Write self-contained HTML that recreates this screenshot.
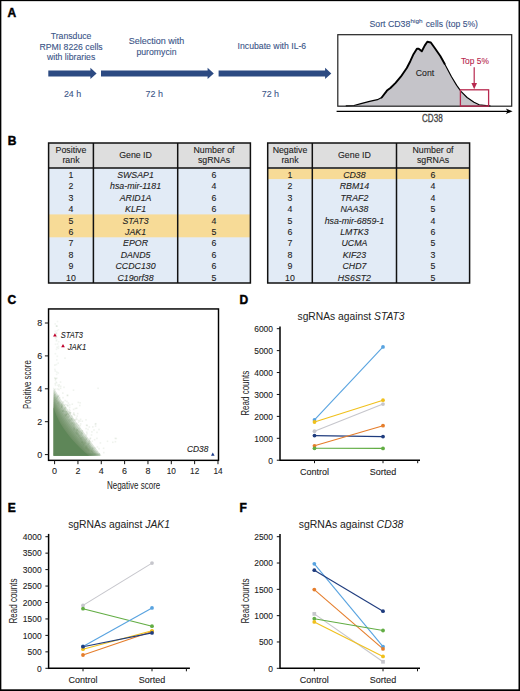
<!DOCTYPE html>
<html><head><meta charset="utf-8"><title>Figure</title>
<style>html,body{margin:0;padding:0;background:#fff;overflow:hidden;width:520px;height:691px;} svg{display:block;} text{font-family:"Liberation Sans", sans-serif;} .b{stroke:currentColor;}</style>
</head><body>
<svg width="520" height="691" viewBox="0 0 520 691">
<rect x="0" y="0" width="520" height="691" fill="#fff"/>
<text x="7.5" y="16.9" font-size="12" font-weight="bold" fill="#000" stroke="#000" stroke-width="0.45">A</text>
<text x="7.8" y="144.6" font-size="12" font-weight="bold" fill="#000" stroke="#000" stroke-width="0.45">B</text>
<text x="7.4" y="304.2" font-size="12" font-weight="bold" fill="#000" stroke="#000" stroke-width="0.45">C</text>
<text x="239.4" y="304.4" font-size="12" font-weight="bold" fill="#000" stroke="#000" stroke-width="0.45">D</text>
<text x="7.8" y="512.3" font-size="12" font-weight="bold" fill="#000" stroke="#000" stroke-width="0.45">E</text>
<text x="239.4" y="512.3" font-size="12" font-weight="bold" fill="#000" stroke="#000" stroke-width="0.45">F</text>
<polygon points="48.3,70.4 90.39999999999999,70.4 90.39999999999999,67.8 96.6,73.45 90.39999999999999,78.9 90.39999999999999,76.5 48.3,76.5" fill="#2c4a82"/>
<polygon points="101.0,70.4 207.60000000000002,70.4 207.60000000000002,67.8 213.8,73.45 207.60000000000002,78.9 207.60000000000002,76.5 101.0,76.5" fill="#2c4a82"/>
<polygon points="218.6,70.4 325.1,70.4 325.1,67.8 331.3,73.45 325.1,78.9 325.1,76.5 218.6,76.5" fill="#2c4a82"/>
<text x="71.10" y="39.00" font-size="8.7" fill="#3a5487" stroke="#3a5487" stroke-width="0.1" text-anchor="middle" >Transduce</text>
<text x="71.10" y="49.50" font-size="8.7" fill="#3a5487" stroke="#3a5487" stroke-width="0.1" text-anchor="middle" >RPMI 8226 cells</text>
<text x="71.10" y="60.00" font-size="8.7" fill="#3a5487" stroke="#3a5487" stroke-width="0.1" text-anchor="middle" >with libraries</text>
<text x="156.50" y="44.20" font-size="8.7" fill="#3a5487" stroke="#3a5487" stroke-width="0.1" text-anchor="middle" textLength="55.60" lengthAdjust="spacingAndGlyphs" >Selection with</text>
<text x="156.50" y="54.60" font-size="8.7" fill="#3a5487" stroke="#3a5487" stroke-width="0.1" text-anchor="middle" >puromycin</text>
<text x="271.90" y="49.10" font-size="8.7" fill="#3a5487" stroke="#3a5487" stroke-width="0.1" text-anchor="middle" >Incubate with IL-6</text>
<text x="72.60" y="96.80" font-size="9.4" fill="#3a5487" stroke="#3a5487" stroke-width="0.1" text-anchor="middle" textLength="17.40" lengthAdjust="spacingAndGlyphs" >24 h</text>
<text x="154.20" y="96.80" font-size="9.4" fill="#3a5487" stroke="#3a5487" stroke-width="0.1" text-anchor="middle" textLength="17.40" lengthAdjust="spacingAndGlyphs" >72 h</text>
<text x="270.40" y="96.60" font-size="9.4" fill="#3a5487" stroke="#3a5487" stroke-width="0.1" text-anchor="middle" textLength="17.40" lengthAdjust="spacingAndGlyphs" >72 h</text>
<text x="369.40" y="26.60" font-size="9.0" fill="#3a5487" stroke="#3a5487" stroke-width="0.1" textLength="41.00" lengthAdjust="spacingAndGlyphs" >Sort CD38</text>
<text x="410.60" y="23.00" font-size="6.2" fill="#3a5487" stroke="#3a5487" stroke-width="0.1" textLength="12.00" lengthAdjust="spacingAndGlyphs" >high</text>
<text x="425.80" y="26.60" font-size="9.0" fill="#3a5487" stroke="#3a5487" stroke-width="0.1" textLength="52.20" lengthAdjust="spacingAndGlyphs" >cells (top 5%)</text>
<path d="M338.2,105.8 L346.2,105.8 L354,105.5 L361,103.6 L369.6,101.3 L377.4,99.7 L381.7,97.5 L387,90.6 L390.4,88 L395.6,82.8 L400.8,76.7 L406.8,68 L410.3,61.2 L413.5,54.2 L416.9,48.7 L418.7,48.7 L421.8,51.3 L424.7,45.6 L427.3,41.8 L430.8,42.5 L434.2,47.3 L440.3,56 L444.6,63.7 L451.5,76.7 L456.7,85.4 L461,91.4 L467.1,97.5 L474,102.3 L479.2,104.8 L486.2,105.6 L490,105.9 L490,106.2 L338.2,106.2 Z" fill="#c5c4c9"/>
<path d="M346.2,105.8 L354,105.5 L361,103.6 L369.6,101.3 L377.4,99.7 L381.7,97.5" fill="none" stroke="#000" stroke-width="1.2" stroke-linejoin="round" stroke-linecap="round"/>
<path d="M381.7,97.5 L387,90.6 L390.4,88 L395.6,82.8 L400.8,76.7 L406.8,68 L410.3,61.2 L413.5,54.2 L416.9,48.7 L418.7,48.7 L421.8,51.3 L424.7,45.6 L427.3,41.8 L430.8,42.5 L434.2,47.3 L440.3,56 L444.6,63.7" fill="none" stroke="#000" stroke-width="1.9" stroke-linejoin="round" stroke-linecap="round"/>
<path d="M444.6,63.7 L451.5,76.7 L456.7,85.4 L461,91.4 L467.1,97.5 L474,102.3 L479.2,104.8 L486.2,105.6 L490,105.9" fill="none" stroke="#000" stroke-width="1.15" stroke-linejoin="round" stroke-linecap="round"/>
<rect x="337.8" y="34.7" width="173.9" height="71.5" fill="none" stroke="#222" stroke-width="1.2"/>
<rect x="460.4" y="89.8" width="28.2" height="16.3" fill="none" stroke="#b8294f" stroke-width="1.3"/>
<text x="474.90" y="64.30" font-size="8.4" fill="#b8294f" stroke="#b8294f" stroke-width="0.1" text-anchor="middle" >Top 5%</text>
<line x1="474.2" y1="67.2" x2="474.2" y2="84" stroke="#b8294f" stroke-width="1.2"/>
<polygon points="471.4,83 477,83 474.2,89.2" fill="#b8294f"/>
<text x="425.00" y="76.40" font-size="8.7" fill="#222" stroke="#222" stroke-width="0.1" text-anchor="middle" >Cont</text>
<line x1="336.6" y1="111.3" x2="508" y2="111.3" stroke="#000" stroke-width="1.2"/>
<polygon points="505.8,108.5 512.6,111.3 505.8,114.1 507.6,111.3" fill="#000"/>
<text x="432.30" y="121.90" font-size="10.4" fill="#444" stroke="#444" stroke-width="0.3" text-anchor="middle" textLength="20.80" lengthAdjust="spacingAndGlyphs" >CD38</text>
<rect x="48.6" y="143.0" width="201.8" height="25.0" fill="#dedede"/>
<rect x="48.6" y="168.0" width="201.8" height="115.0" fill="#e2ebf6"/>
<rect x="48.6" y="214.4" width="201.8" height="22.900000000000006" fill="#f7db97"/>
<rect x="48.6" y="143.0" width="201.8" height="140.0" fill="none" stroke="#111" stroke-width="1.5"/>
<line x1="48.6" y1="168.0" x2="250.4" y2="168.0" stroke="#111" stroke-width="1.5"/>
<line x1="93.4" y1="143.0" x2="93.4" y2="283.0" stroke="#111" stroke-width="1.5"/>
<line x1="177.7" y1="143.0" x2="177.7" y2="283.0" stroke="#111" stroke-width="1.5"/>
<text x="71.00" y="152.70" font-size="8.8" fill="#222" stroke="#222" stroke-width="0.1" text-anchor="middle" >Positive</text>
<text x="71.00" y="162.90" font-size="8.8" fill="#222" stroke="#222" stroke-width="0.1" text-anchor="middle" >rank</text>
<text x="135.55" y="158.10" font-size="8.8" fill="#222" stroke="#222" stroke-width="0.1" text-anchor="middle" >Gene ID</text>
<text x="214.05" y="152.70" font-size="8.8" fill="#222" stroke="#222" stroke-width="0.1" text-anchor="middle" >Number of</text>
<text x="214.05" y="162.90" font-size="8.8" fill="#222" stroke="#222" stroke-width="0.1" text-anchor="middle" >sgRNAs</text>
<text x="71.00" y="177.70" font-size="8.8" fill="#222" stroke="#222" stroke-width="0.1" text-anchor="middle" >1</text>
<text x="135.55" y="177.70" font-size="8.8" fill="#222" stroke="#222" stroke-width="0.1" text-anchor="middle" font-style="italic" >SWSAP1</text>
<text x="214.05" y="177.70" font-size="8.8" fill="#222" stroke="#222" stroke-width="0.1" text-anchor="middle" >6</text>
<text x="71.00" y="189.15" font-size="8.8" fill="#222" stroke="#222" stroke-width="0.1" text-anchor="middle" >2</text>
<text x="135.55" y="189.15" font-size="8.8" fill="#222" stroke="#222" stroke-width="0.1" text-anchor="middle" font-style="italic" >hsa-mir-1181</text>
<text x="214.05" y="189.15" font-size="8.8" fill="#222" stroke="#222" stroke-width="0.1" text-anchor="middle" >4</text>
<text x="71.00" y="200.60" font-size="8.8" fill="#222" stroke="#222" stroke-width="0.1" text-anchor="middle" >3</text>
<text x="135.55" y="200.60" font-size="8.8" fill="#222" stroke="#222" stroke-width="0.1" text-anchor="middle" font-style="italic" >ARID1A</text>
<text x="214.05" y="200.60" font-size="8.8" fill="#222" stroke="#222" stroke-width="0.1" text-anchor="middle" >6</text>
<text x="71.00" y="212.05" font-size="8.8" fill="#222" stroke="#222" stroke-width="0.1" text-anchor="middle" >4</text>
<text x="135.55" y="212.05" font-size="8.8" fill="#222" stroke="#222" stroke-width="0.1" text-anchor="middle" font-style="italic" >KLF1</text>
<text x="214.05" y="212.05" font-size="8.8" fill="#222" stroke="#222" stroke-width="0.1" text-anchor="middle" >6</text>
<text x="71.00" y="223.50" font-size="8.8" fill="#222" stroke="#222" stroke-width="0.1" text-anchor="middle" >5</text>
<text x="135.55" y="223.50" font-size="8.8" fill="#222" stroke="#222" stroke-width="0.1" text-anchor="middle" font-style="italic" >STAT3</text>
<text x="214.05" y="223.50" font-size="8.8" fill="#222" stroke="#222" stroke-width="0.1" text-anchor="middle" >4</text>
<text x="71.00" y="234.95" font-size="8.8" fill="#222" stroke="#222" stroke-width="0.1" text-anchor="middle" >6</text>
<text x="135.55" y="234.95" font-size="8.8" fill="#222" stroke="#222" stroke-width="0.1" text-anchor="middle" font-style="italic" >JAK1</text>
<text x="214.05" y="234.95" font-size="8.8" fill="#222" stroke="#222" stroke-width="0.1" text-anchor="middle" >5</text>
<text x="71.00" y="246.40" font-size="8.8" fill="#222" stroke="#222" stroke-width="0.1" text-anchor="middle" >7</text>
<text x="135.55" y="246.40" font-size="8.8" fill="#222" stroke="#222" stroke-width="0.1" text-anchor="middle" font-style="italic" >EPOR</text>
<text x="214.05" y="246.40" font-size="8.8" fill="#222" stroke="#222" stroke-width="0.1" text-anchor="middle" >6</text>
<text x="71.00" y="257.85" font-size="8.8" fill="#222" stroke="#222" stroke-width="0.1" text-anchor="middle" >8</text>
<text x="135.55" y="257.85" font-size="8.8" fill="#222" stroke="#222" stroke-width="0.1" text-anchor="middle" font-style="italic" >DAND5</text>
<text x="214.05" y="257.85" font-size="8.8" fill="#222" stroke="#222" stroke-width="0.1" text-anchor="middle" >6</text>
<text x="71.00" y="269.30" font-size="8.8" fill="#222" stroke="#222" stroke-width="0.1" text-anchor="middle" >9</text>
<text x="135.55" y="269.30" font-size="8.8" fill="#222" stroke="#222" stroke-width="0.1" text-anchor="middle" font-style="italic" >CCDC130</text>
<text x="214.05" y="269.30" font-size="8.8" fill="#222" stroke="#222" stroke-width="0.1" text-anchor="middle" >6</text>
<text x="71.00" y="280.75" font-size="8.8" fill="#222" stroke="#222" stroke-width="0.1" text-anchor="middle" >10</text>
<text x="135.55" y="280.75" font-size="8.8" fill="#222" stroke="#222" stroke-width="0.1" text-anchor="middle" font-style="italic" >C19orf38</text>
<text x="214.05" y="280.75" font-size="8.8" fill="#222" stroke="#222" stroke-width="0.1" text-anchor="middle" >5</text>
<rect x="267.7" y="143.0" width="201.90000000000003" height="25.0" fill="#dedede"/>
<rect x="267.7" y="168.0" width="201.90000000000003" height="115.0" fill="#e2ebf6"/>
<rect x="267.7" y="168.7" width="201.90000000000003" height="10.400000000000006" fill="#f7db97"/>
<rect x="267.7" y="143.0" width="201.90000000000003" height="140.0" fill="none" stroke="#111" stroke-width="1.5"/>
<line x1="267.7" y1="168.0" x2="469.6" y2="168.0" stroke="#111" stroke-width="1.5"/>
<line x1="312.3" y1="143.0" x2="312.3" y2="283.0" stroke="#111" stroke-width="1.5"/>
<line x1="396.5" y1="143.0" x2="396.5" y2="283.0" stroke="#111" stroke-width="1.5"/>
<text x="290.00" y="152.70" font-size="8.8" fill="#222" stroke="#222" stroke-width="0.1" text-anchor="middle" >Negative</text>
<text x="290.00" y="162.90" font-size="8.8" fill="#222" stroke="#222" stroke-width="0.1" text-anchor="middle" >rank</text>
<text x="354.40" y="158.10" font-size="8.8" fill="#222" stroke="#222" stroke-width="0.1" text-anchor="middle" >Gene ID</text>
<text x="433.05" y="152.70" font-size="8.8" fill="#222" stroke="#222" stroke-width="0.1" text-anchor="middle" >Number of</text>
<text x="433.05" y="162.90" font-size="8.8" fill="#222" stroke="#222" stroke-width="0.1" text-anchor="middle" >sgRNAs</text>
<text x="290.00" y="177.70" font-size="8.8" fill="#222" stroke="#222" stroke-width="0.1" text-anchor="middle" >1</text>
<text x="354.40" y="177.70" font-size="8.8" fill="#222" stroke="#222" stroke-width="0.1" text-anchor="middle" font-style="italic" >CD38</text>
<text x="433.05" y="177.70" font-size="8.8" fill="#222" stroke="#222" stroke-width="0.1" text-anchor="middle" >6</text>
<text x="290.00" y="189.15" font-size="8.8" fill="#222" stroke="#222" stroke-width="0.1" text-anchor="middle" >2</text>
<text x="354.40" y="189.15" font-size="8.8" fill="#222" stroke="#222" stroke-width="0.1" text-anchor="middle" font-style="italic" >RBM14</text>
<text x="433.05" y="189.15" font-size="8.8" fill="#222" stroke="#222" stroke-width="0.1" text-anchor="middle" >4</text>
<text x="290.00" y="200.60" font-size="8.8" fill="#222" stroke="#222" stroke-width="0.1" text-anchor="middle" >3</text>
<text x="354.40" y="200.60" font-size="8.8" fill="#222" stroke="#222" stroke-width="0.1" text-anchor="middle" font-style="italic" >TRAF2</text>
<text x="433.05" y="200.60" font-size="8.8" fill="#222" stroke="#222" stroke-width="0.1" text-anchor="middle" >4</text>
<text x="290.00" y="212.05" font-size="8.8" fill="#222" stroke="#222" stroke-width="0.1" text-anchor="middle" >4</text>
<text x="354.40" y="212.05" font-size="8.8" fill="#222" stroke="#222" stroke-width="0.1" text-anchor="middle" font-style="italic" >NAA38</text>
<text x="433.05" y="212.05" font-size="8.8" fill="#222" stroke="#222" stroke-width="0.1" text-anchor="middle" >5</text>
<text x="290.00" y="223.50" font-size="8.8" fill="#222" stroke="#222" stroke-width="0.1" text-anchor="middle" >5</text>
<text x="354.40" y="223.50" font-size="8.8" fill="#222" stroke="#222" stroke-width="0.1" text-anchor="middle" font-style="italic" >hsa-mir-6859-1</text>
<text x="433.05" y="223.50" font-size="8.8" fill="#222" stroke="#222" stroke-width="0.1" text-anchor="middle" >4</text>
<text x="290.00" y="234.95" font-size="8.8" fill="#222" stroke="#222" stroke-width="0.1" text-anchor="middle" >6</text>
<text x="354.40" y="234.95" font-size="8.8" fill="#222" stroke="#222" stroke-width="0.1" text-anchor="middle" font-style="italic" >LMTK3</text>
<text x="433.05" y="234.95" font-size="8.8" fill="#222" stroke="#222" stroke-width="0.1" text-anchor="middle" >6</text>
<text x="290.00" y="246.40" font-size="8.8" fill="#222" stroke="#222" stroke-width="0.1" text-anchor="middle" >7</text>
<text x="354.40" y="246.40" font-size="8.8" fill="#222" stroke="#222" stroke-width="0.1" text-anchor="middle" font-style="italic" >UCMA</text>
<text x="433.05" y="246.40" font-size="8.8" fill="#222" stroke="#222" stroke-width="0.1" text-anchor="middle" >5</text>
<text x="290.00" y="257.85" font-size="8.8" fill="#222" stroke="#222" stroke-width="0.1" text-anchor="middle" >8</text>
<text x="354.40" y="257.85" font-size="8.8" fill="#222" stroke="#222" stroke-width="0.1" text-anchor="middle" font-style="italic" >KIF23</text>
<text x="433.05" y="257.85" font-size="8.8" fill="#222" stroke="#222" stroke-width="0.1" text-anchor="middle" >3</text>
<text x="290.00" y="269.30" font-size="8.8" fill="#222" stroke="#222" stroke-width="0.1" text-anchor="middle" >9</text>
<text x="354.40" y="269.30" font-size="8.8" fill="#222" stroke="#222" stroke-width="0.1" text-anchor="middle" font-style="italic" >CHD7</text>
<text x="433.05" y="269.30" font-size="8.8" fill="#222" stroke="#222" stroke-width="0.1" text-anchor="middle" >5</text>
<text x="290.00" y="280.75" font-size="8.8" fill="#222" stroke="#222" stroke-width="0.1" text-anchor="middle" >10</text>
<text x="354.40" y="280.75" font-size="8.8" fill="#222" stroke="#222" stroke-width="0.1" text-anchor="middle" font-style="italic" >HS6ST2</text>
<text x="433.05" y="280.75" font-size="8.8" fill="#222" stroke="#222" stroke-width="0.1" text-anchor="middle" >5</text>
<polygon points="53.6,455.8 53.6,387.5 55.7,391.1 58.1,395.1 60.9,399.5 64.0,404.2 67.5,409.3 71.3,414.8 75.4,420.7 80.0,427.0 84.8,433.6 90.0,440.6 95.6,448.0 101.5,455.8" fill="#5e8658" fill-opacity="0.22"/>
<polygon points="53.6,455.8 53.6,389.9 55.6,393.6 57.9,397.6 60.6,401.9 63.6,406.6 67.0,411.6 70.7,416.9 74.7,422.6 79.1,428.6 83.8,434.9 88.8,441.5 94.2,448.5 100.0,455.8" fill="#5e8658" fill-opacity="0.22"/>
<polygon points="53.6,455.8 53.6,392.3 55.5,396.1 57.7,400.1 60.3,404.4 63.2,409.0 66.5,413.8 70.0,419.0 73.9,424.4 78.2,430.1 82.8,436.1 87.7,442.4 92.9,449.0 98.5,455.8" fill="#5e8658" fill-opacity="0.22"/>
<polygon points="53.6,455.8 53.6,394.7 55.4,398.5 57.6,402.5 60.0,406.8 62.8,411.3 66.0,416.1 69.4,421.0 73.2,426.2 77.3,431.7 81.7,437.4 86.5,443.3 91.6,449.4 97.0,455.8" fill="#5e8658" fill-opacity="0.22"/>
<polygon points="53.6,455.8 53.6,397.0 55.3,400.9 57.4,404.9 59.8,409.2 62.5,413.6 65.5,418.2 68.8,423.0 72.5,428.0 76.5,433.2 80.8,438.6 85.4,444.1 90.3,449.9 95.5,455.8" fill="#5e8658" fill-opacity="0.22"/>
<polygon points="53.6,455.8 53.6,399.3 55.3,403.2 57.2,407.3 59.5,411.5 62.1,415.9 65.0,420.4 68.3,425.0 71.8,429.8 75.6,434.7 79.8,439.8 84.3,445.0 89.0,450.3 94.1,455.8" fill="#5e8658" fill-opacity="0.22"/>
<polygon points="53.6,455.8 53.6,401.5 55.2,405.5 57.1,409.6 59.3,413.8 61.8,418.1 64.6,422.4 67.7,426.9 71.1,431.5 74.8,436.2 78.8,440.9 83.2,445.8 87.8,450.7 92.7,455.8" fill="#5e8658" fill-opacity="0.22"/>
<polygon points="53.6,455.8 53.6,403.7 55.1,407.7 56.9,411.8 59.0,416.0 61.4,420.2 64.1,424.5 67.1,428.8 70.4,433.1 74.0,437.6 77.9,442.0 82.1,446.6 86.6,451.2 91.4,455.8" fill="#5e8658" fill-opacity="0.22"/>
<polygon points="53.6,455.8 53.6,405.7 55.0,409.8 56.8,413.9 58.8,418.1 61.1,422.2 63.7,426.4 66.6,430.5 69.8,434.7 73.3,438.9 77.0,443.1 81.1,447.3 85.5,451.6 90.1,455.8" fill="#5e8658" fill-opacity="0.22"/>
<polygon points="53.6,455.8 53.6,407.5 55.0,411.7 56.6,415.8 58.6,419.9 60.8,424.0 63.3,428.0 66.2,432.1 69.2,436.1 72.6,440.1 76.3,444.0 80.2,448.0 84.5,451.9 89.0,455.8" fill="#5e8658" fill-opacity="1.0"/>
<rect x="63.7" y="404.4" width="1.6" height="1.6" fill="#5e8658" fill-opacity="0.10"/>
<rect x="69.6" y="411.9" width="1.6" height="1.6" fill="#5e8658" fill-opacity="0.10"/>
<rect x="76.3" y="432.8" width="1.6" height="1.6" fill="#5e8658" fill-opacity="0.10"/>
<rect x="54.5" y="377.6" width="1.6" height="1.6" fill="#5e8658" fill-opacity="0.10"/>
<rect x="63.5" y="410.5" width="1.6" height="1.6" fill="#5e8658" fill-opacity="0.10"/>
<rect x="94.0" y="453.5" width="1.6" height="1.6" fill="#5e8658" fill-opacity="0.10"/>
<rect x="87.7" y="443.5" width="1.6" height="1.6" fill="#5e8658" fill-opacity="0.10"/>
<rect x="77.3" y="433.1" width="1.6" height="1.6" fill="#5e8658" fill-opacity="0.10"/>
<rect x="86.3" y="424.7" width="1.6" height="1.6" fill="#5e8658" fill-opacity="0.10"/>
<rect x="77.8" y="419.7" width="1.6" height="1.6" fill="#5e8658" fill-opacity="0.10"/>
<rect x="78.0" y="435.4" width="1.6" height="1.6" fill="#5e8658" fill-opacity="0.10"/>
<rect x="86.0" y="437.8" width="1.6" height="1.6" fill="#5e8658" fill-opacity="0.10"/>
<rect x="64.6" y="414.9" width="1.6" height="1.6" fill="#5e8658" fill-opacity="0.10"/>
<rect x="88.8" y="445.3" width="1.6" height="1.6" fill="#5e8658" fill-opacity="0.10"/>
<rect x="91.1" y="431.1" width="1.6" height="1.6" fill="#5e8658" fill-opacity="0.10"/>
<rect x="93.2" y="429.2" width="1.6" height="1.6" fill="#5e8658" fill-opacity="0.10"/>
<rect x="72.8" y="408.6" width="1.6" height="1.6" fill="#5e8658" fill-opacity="0.10"/>
<rect x="79.0" y="404.7" width="1.6" height="1.6" fill="#5e8658" fill-opacity="0.10"/>
<rect x="85.7" y="447.0" width="1.6" height="1.6" fill="#5e8658" fill-opacity="0.10"/>
<rect x="58.9" y="403.5" width="1.6" height="1.6" fill="#5e8658" fill-opacity="0.10"/>
<rect x="92.3" y="451.7" width="1.6" height="1.6" fill="#5e8658" fill-opacity="0.10"/>
<rect x="77.8" y="431.5" width="1.6" height="1.6" fill="#5e8658" fill-opacity="0.10"/>
<rect x="73.7" y="423.7" width="1.6" height="1.6" fill="#5e8658" fill-opacity="0.10"/>
<rect x="68.6" y="411.0" width="1.6" height="1.6" fill="#5e8658" fill-opacity="0.10"/>
<rect x="85.2" y="419.0" width="1.6" height="1.6" fill="#5e8658" fill-opacity="0.10"/>
<rect x="92.0" y="426.1" width="1.6" height="1.6" fill="#5e8658" fill-opacity="0.10"/>
<rect x="115.5" y="437.7" width="1.6" height="1.6" fill="#5e8658" fill-opacity="0.10"/>
<rect x="78.5" y="434.9" width="1.6" height="1.6" fill="#5e8658" fill-opacity="0.10"/>
<rect x="106.7" y="440.5" width="1.6" height="1.6" fill="#5e8658" fill-opacity="0.10"/>
<rect x="91.8" y="447.6" width="1.6" height="1.6" fill="#5e8658" fill-opacity="0.10"/>
<rect x="80.4" y="437.2" width="1.6" height="1.6" fill="#5e8658" fill-opacity="0.10"/>
<rect x="88.8" y="442.8" width="1.6" height="1.6" fill="#5e8658" fill-opacity="0.10"/>
<rect x="64.1" y="413.7" width="1.6" height="1.6" fill="#5e8658" fill-opacity="0.10"/>
<rect x="114.5" y="437.6" width="1.6" height="1.6" fill="#5e8658" fill-opacity="0.10"/>
<rect x="58.0" y="385.7" width="1.6" height="1.6" fill="#5e8658" fill-opacity="0.10"/>
<rect x="68.9" y="420.1" width="1.6" height="1.6" fill="#5e8658" fill-opacity="0.10"/>
<rect x="67.6" y="402.3" width="1.6" height="1.6" fill="#5e8658" fill-opacity="0.10"/>
<rect x="85.1" y="446.7" width="1.6" height="1.6" fill="#5e8658" fill-opacity="0.10"/>
<rect x="75.8" y="432.3" width="1.6" height="1.6" fill="#5e8658" fill-opacity="0.10"/>
<rect x="81.5" y="436.9" width="1.6" height="1.6" fill="#5e8658" fill-opacity="0.10"/>
<rect x="112.0" y="441.5" width="1.6" height="1.6" fill="#5e8658" fill-opacity="0.10"/>
<rect x="97.3" y="387.5" width="1.6" height="1.6" fill="#5e8658" fill-opacity="0.10"/>
<rect x="65.0" y="415.0" width="1.6" height="1.6" fill="#5e8658" fill-opacity="0.10"/>
<rect x="75.2" y="431.5" width="1.6" height="1.6" fill="#5e8658" fill-opacity="0.10"/>
<rect x="61.6" y="404.4" width="1.6" height="1.6" fill="#5e8658" fill-opacity="0.10"/>
<rect x="76.3" y="431.5" width="1.6" height="1.6" fill="#5e8658" fill-opacity="0.10"/>
<rect x="56.0" y="377.4" width="1.6" height="1.6" fill="#5e8658" fill-opacity="0.10"/>
<rect x="72.7" y="389.4" width="1.6" height="1.6" fill="#5e8658" fill-opacity="0.10"/>
<rect x="88.9" y="447.5" width="1.6" height="1.6" fill="#5e8658" fill-opacity="0.10"/>
<rect x="72.8" y="419.2" width="1.6" height="1.6" fill="#5e8658" fill-opacity="0.10"/>
<rect x="81.2" y="430.2" width="1.6" height="1.6" fill="#5e8658" fill-opacity="0.10"/>
<rect x="77.8" y="424.3" width="1.6" height="1.6" fill="#5e8658" fill-opacity="0.10"/>
<rect x="92.3" y="450.0" width="1.6" height="1.6" fill="#5e8658" fill-opacity="0.10"/>
<rect x="73.4" y="413.6" width="1.6" height="1.6" fill="#5e8658" fill-opacity="0.10"/>
<rect x="62.9" y="408.4" width="1.6" height="1.6" fill="#5e8658" fill-opacity="0.10"/>
<rect x="94.1" y="452.4" width="1.6" height="1.6" fill="#5e8658" fill-opacity="0.10"/>
<rect x="73.3" y="428.8" width="1.6" height="1.6" fill="#5e8658" fill-opacity="0.10"/>
<rect x="71.3" y="415.3" width="1.6" height="1.6" fill="#5e8658" fill-opacity="0.10"/>
<rect x="54.7" y="388.3" width="1.6" height="1.6" fill="#5e8658" fill-opacity="0.10"/>
<rect x="76.5" y="433.2" width="1.6" height="1.6" fill="#5e8658" fill-opacity="0.10"/>
<rect x="79.1" y="430.4" width="1.6" height="1.6" fill="#5e8658" fill-opacity="0.10"/>
<rect x="80.2" y="434.4" width="1.6" height="1.6" fill="#5e8658" fill-opacity="0.10"/>
<rect x="86.2" y="432.9" width="1.6" height="1.6" fill="#5e8658" fill-opacity="0.10"/>
<rect x="54.6" y="399.0" width="1.6" height="1.6" fill="#5e8658" fill-opacity="0.10"/>
<rect x="95.1" y="422.9" width="1.6" height="1.6" fill="#5e8658" fill-opacity="0.10"/>
<rect x="63.9" y="406.9" width="1.6" height="1.6" fill="#5e8658" fill-opacity="0.10"/>
<rect x="76.6" y="429.4" width="1.6" height="1.6" fill="#5e8658" fill-opacity="0.10"/>
<rect x="67.8" y="415.8" width="1.6" height="1.6" fill="#5e8658" fill-opacity="0.10"/>
<rect x="69.5" y="412.0" width="1.6" height="1.6" fill="#5e8658" fill-opacity="0.10"/>
<rect x="65.6" y="411.1" width="1.6" height="1.6" fill="#5e8658" fill-opacity="0.10"/>
<rect x="81.4" y="441.1" width="1.6" height="1.6" fill="#5e8658" fill-opacity="0.10"/>
<rect x="79.9" y="423.1" width="1.6" height="1.6" fill="#5e8658" fill-opacity="0.10"/>
<rect x="65.4" y="413.6" width="1.6" height="1.6" fill="#5e8658" fill-opacity="0.10"/>
<rect x="84.0" y="442.3" width="1.6" height="1.6" fill="#5e8658" fill-opacity="0.10"/>
<rect x="61.3" y="403.3" width="1.6" height="1.6" fill="#5e8658" fill-opacity="0.10"/>
<rect x="79.1" y="436.7" width="1.6" height="1.6" fill="#5e8658" fill-opacity="0.10"/>
<rect x="66.2" y="413.0" width="1.6" height="1.6" fill="#5e8658" fill-opacity="0.10"/>
<rect x="87.1" y="443.4" width="1.6" height="1.6" fill="#5e8658" fill-opacity="0.10"/>
<rect x="85.4" y="445.5" width="1.6" height="1.6" fill="#5e8658" fill-opacity="0.10"/>
<rect x="68.5" y="408.7" width="1.6" height="1.6" fill="#5e8658" fill-opacity="0.10"/>
<rect x="89.3" y="446.6" width="1.6" height="1.6" fill="#5e8658" fill-opacity="0.10"/>
<rect x="62.0" y="409.8" width="1.6" height="1.6" fill="#5e8658" fill-opacity="0.10"/>
<rect x="73.5" y="426.6" width="1.6" height="1.6" fill="#5e8658" fill-opacity="0.10"/>
<rect x="93.8" y="438.9" width="1.6" height="1.6" fill="#5e8658" fill-opacity="0.10"/>
<rect x="60.8" y="405.5" width="1.6" height="1.6" fill="#5e8658" fill-opacity="0.10"/>
<rect x="88.9" y="440.8" width="1.6" height="1.6" fill="#5e8658" fill-opacity="0.10"/>
<rect x="85.1" y="442.1" width="1.6" height="1.6" fill="#5e8658" fill-opacity="0.10"/>
<rect x="58.7" y="402.1" width="1.6" height="1.6" fill="#5e8658" fill-opacity="0.10"/>
<rect x="83.9" y="441.6" width="1.6" height="1.6" fill="#5e8658" fill-opacity="0.10"/>
<rect x="67.5" y="413.4" width="1.6" height="1.6" fill="#5e8658" fill-opacity="0.10"/>
<rect x="70.4" y="418.0" width="1.6" height="1.6" fill="#5e8658" fill-opacity="0.10"/>
<rect x="87.7" y="449.2" width="1.6" height="1.6" fill="#5e8658" fill-opacity="0.10"/>
<rect x="54.1" y="364.3" width="1.6" height="1.6" fill="#5e8658" fill-opacity="0.10"/>
<rect x="114.6" y="440.9" width="1.6" height="1.6" fill="#5e8658" fill-opacity="0.10"/>
<rect x="79.3" y="402.0" width="1.6" height="1.6" fill="#5e8658" fill-opacity="0.10"/>
<rect x="88.5" y="449.6" width="1.6" height="1.6" fill="#5e8658" fill-opacity="0.10"/>
<rect x="90.7" y="434.2" width="1.6" height="1.6" fill="#5e8658" fill-opacity="0.10"/>
<rect x="81.1" y="432.2" width="1.6" height="1.6" fill="#5e8658" fill-opacity="0.10"/>
<rect x="65.0" y="410.9" width="1.6" height="1.6" fill="#5e8658" fill-opacity="0.10"/>
<rect x="62.0" y="410.4" width="1.6" height="1.6" fill="#5e8658" fill-opacity="0.10"/>
<rect x="76.2" y="429.4" width="1.6" height="1.6" fill="#5e8658" fill-opacity="0.10"/>
<rect x="82.8" y="443.2" width="1.6" height="1.6" fill="#5e8658" fill-opacity="0.10"/>
<rect x="94.2" y="447.1" width="1.6" height="1.6" fill="#5e8658" fill-opacity="0.10"/>
<rect x="102.8" y="447.5" width="1.6" height="1.6" fill="#5e8658" fill-opacity="0.10"/>
<rect x="91.7" y="447.2" width="1.6" height="1.6" fill="#5e8658" fill-opacity="0.10"/>
<rect x="54.4" y="382.9" width="1.6" height="1.6" fill="#5e8658" fill-opacity="0.10"/>
<rect x="60.4" y="404.5" width="1.6" height="1.6" fill="#5e8658" fill-opacity="0.10"/>
<rect x="81.1" y="432.1" width="1.6" height="1.6" fill="#5e8658" fill-opacity="0.10"/>
<rect x="77.5" y="401.6" width="1.6" height="1.6" fill="#5e8658" fill-opacity="0.10"/>
<rect x="77.5" y="430.4" width="1.6" height="1.6" fill="#5e8658" fill-opacity="0.10"/>
<rect x="66.6" y="394.6" width="1.6" height="1.6" fill="#5e8658" fill-opacity="0.10"/>
<rect x="76.4" y="415.3" width="1.6" height="1.6" fill="#5e8658" fill-opacity="0.10"/>
<rect x="66.9" y="416.3" width="1.6" height="1.6" fill="#5e8658" fill-opacity="0.10"/>
<rect x="79.8" y="418.5" width="1.6" height="1.6" fill="#5e8658" fill-opacity="0.10"/>
<rect x="62.0" y="392.3" width="1.6" height="1.6" fill="#5e8658" fill-opacity="0.10"/>
<rect x="98.2" y="447.9" width="1.6" height="1.6" fill="#5e8658" fill-opacity="0.10"/>
<rect x="83.1" y="444.0" width="1.6" height="1.6" fill="#5e8658" fill-opacity="0.10"/>
<rect x="85.8" y="424.4" width="1.6" height="1.6" fill="#5e8658" fill-opacity="0.10"/>
<rect x="55.7" y="397.7" width="1.6" height="1.6" fill="#5e8658" fill-opacity="0.10"/>
<rect x="64.9" y="406.7" width="1.6" height="1.6" fill="#5e8658" fill-opacity="0.10"/>
<rect x="70.9" y="417.4" width="1.6" height="1.6" fill="#5e8658" fill-opacity="0.10"/>
<rect x="81.4" y="441.4" width="1.6" height="1.6" fill="#5e8658" fill-opacity="0.10"/>
<rect x="55.8" y="400.0" width="1.6" height="1.6" fill="#5e8658" fill-opacity="0.10"/>
<rect x="58.3" y="404.7" width="1.6" height="1.6" fill="#5e8658" fill-opacity="0.10"/>
<rect x="103.0" y="451.8" width="1.6" height="1.6" fill="#5e8658" fill-opacity="0.10"/>
<rect x="57.3" y="395.6" width="1.6" height="1.6" fill="#5e8658" fill-opacity="0.10"/>
<rect x="65.9" y="412.9" width="1.6" height="1.6" fill="#5e8658" fill-opacity="0.10"/>
<rect x="69.1" y="409.8" width="1.6" height="1.6" fill="#5e8658" fill-opacity="0.10"/>
<rect x="76.6" y="428.7" width="1.6" height="1.6" fill="#5e8658" fill-opacity="0.10"/>
<rect x="61.2" y="405.2" width="1.6" height="1.6" fill="#5e8658" fill-opacity="0.10"/>
<rect x="59.0" y="396.8" width="1.6" height="1.6" fill="#5e8658" fill-opacity="0.10"/>
<rect x="81.9" y="436.5" width="1.6" height="1.6" fill="#5e8658" fill-opacity="0.10"/>
<rect x="56.8" y="400.8" width="1.6" height="1.6" fill="#5e8658" fill-opacity="0.10"/>
<rect x="69.7" y="412.1" width="1.6" height="1.6" fill="#5e8658" fill-opacity="0.10"/>
<rect x="84.5" y="440.5" width="1.6" height="1.6" fill="#5e8658" fill-opacity="0.10"/>
<rect x="88.3" y="440.5" width="1.6" height="1.6" fill="#5e8658" fill-opacity="0.10"/>
<rect x="70.7" y="419.2" width="1.6" height="1.6" fill="#5e8658" fill-opacity="0.10"/>
<rect x="76.1" y="418.6" width="1.6" height="1.6" fill="#5e8658" fill-opacity="0.10"/>
<rect x="72.6" y="413.5" width="1.6" height="1.6" fill="#5e8658" fill-opacity="0.10"/>
<rect x="71.2" y="422.2" width="1.6" height="1.6" fill="#5e8658" fill-opacity="0.10"/>
<rect x="77.7" y="421.5" width="1.6" height="1.6" fill="#5e8658" fill-opacity="0.10"/>
<rect x="56.6" y="396.3" width="1.6" height="1.6" fill="#5e8658" fill-opacity="0.10"/>
<rect x="75.9" y="407.4" width="1.6" height="1.6" fill="#5e8658" fill-opacity="0.10"/>
<rect x="90.4" y="449.9" width="1.6" height="1.6" fill="#5e8658" fill-opacity="0.10"/>
<rect x="96.6" y="446.2" width="1.6" height="1.6" fill="#5e8658" fill-opacity="0.10"/>
<rect x="64.4" y="407.5" width="1.6" height="1.6" fill="#5e8658" fill-opacity="0.10"/>
<rect x="59.8" y="387.5" width="1.6" height="1.6" fill="#5e8658" fill-opacity="0.10"/>
<rect x="88.5" y="426.2" width="1.6" height="1.6" fill="#5e8658" fill-opacity="0.10"/>
<rect x="88.7" y="439.6" width="1.6" height="1.6" fill="#5e8658" fill-opacity="0.10"/>
<rect x="84.6" y="436.4" width="1.6" height="1.6" fill="#5e8658" fill-opacity="0.10"/>
<rect x="58.2" y="394.6" width="1.6" height="1.6" fill="#5e8658" fill-opacity="0.10"/>
<rect x="54.0" y="396.9" width="1.6" height="1.6" fill="#5e8658" fill-opacity="0.10"/>
<rect x="81.5" y="441.2" width="1.6" height="1.6" fill="#5e8658" fill-opacity="0.10"/>
<rect x="57.1" y="402.5" width="1.6" height="1.6" fill="#5e8658" fill-opacity="0.10"/>
<rect x="86.4" y="446.9" width="1.6" height="1.6" fill="#5e8658" fill-opacity="0.10"/>
<rect x="55.0" y="378.1" width="1.6" height="1.6" fill="#5e8658" fill-opacity="0.10"/>
<rect x="59.9" y="385.5" width="1.6" height="1.6" fill="#5e8658" fill-opacity="0.10"/>
<rect x="87.2" y="428.6" width="1.6" height="1.6" fill="#5e8658" fill-opacity="0.10"/>
<rect x="94.0" y="450.7" width="1.6" height="1.6" fill="#5e8658" fill-opacity="0.10"/>
<rect x="82.4" y="442.6" width="1.6" height="1.6" fill="#5e8658" fill-opacity="0.10"/>
<rect x="85.3" y="438.9" width="1.6" height="1.6" fill="#5e8658" fill-opacity="0.10"/>
<rect x="79.8" y="437.7" width="1.6" height="1.6" fill="#5e8658" fill-opacity="0.10"/>
<rect x="96.2" y="431.6" width="1.6" height="1.6" fill="#5e8658" fill-opacity="0.10"/>
<rect x="56.2" y="397.5" width="1.6" height="1.6" fill="#5e8658" fill-opacity="0.10"/>
<rect x="81.5" y="420.4" width="1.6" height="1.6" fill="#5e8658" fill-opacity="0.10"/>
<rect x="62.8" y="410.1" width="1.6" height="1.6" fill="#5e8658" fill-opacity="0.10"/>
<rect x="64.5" y="403.7" width="1.6" height="1.6" fill="#5e8658" fill-opacity="0.10"/>
<rect x="83.5" y="438.7" width="1.6" height="1.6" fill="#5e8658" fill-opacity="0.10"/>
<rect x="68.3" y="415.0" width="1.6" height="1.6" fill="#5e8658" fill-opacity="0.10"/>
<rect x="67.7" y="413.6" width="1.6" height="1.6" fill="#5e8658" fill-opacity="0.10"/>
<rect x="57.2" y="395.4" width="1.6" height="1.6" fill="#5e8658" fill-opacity="0.10"/>
<rect x="92.3" y="452.1" width="1.6" height="1.6" fill="#5e8658" fill-opacity="0.10"/>
<rect x="81.3" y="439.3" width="1.6" height="1.6" fill="#5e8658" fill-opacity="0.10"/>
<rect x="85.9" y="431.4" width="1.6" height="1.6" fill="#5e8658" fill-opacity="0.10"/>
<rect x="81.5" y="432.9" width="1.6" height="1.6" fill="#5e8658" fill-opacity="0.10"/>
<rect x="74.8" y="418.8" width="1.6" height="1.6" fill="#5e8658" fill-opacity="0.10"/>
<rect x="86.8" y="447.9" width="1.6" height="1.6" fill="#5e8658" fill-opacity="0.10"/>
<rect x="58.2" y="388.8" width="1.6" height="1.6" fill="#5e8658" fill-opacity="0.10"/>
<rect x="91.5" y="448.5" width="1.6" height="1.6" fill="#5e8658" fill-opacity="0.10"/>
<rect x="73.9" y="414.5" width="1.6" height="1.6" fill="#5e8658" fill-opacity="0.10"/>
<rect x="60.9" y="405.8" width="1.6" height="1.6" fill="#5e8658" fill-opacity="0.10"/>
<rect x="62.2" y="401.0" width="1.6" height="1.6" fill="#5e8658" fill-opacity="0.10"/>
<rect x="65.6" y="413.7" width="1.6" height="1.6" fill="#5e8658" fill-opacity="0.10"/>
<rect x="94.8" y="425.3" width="1.6" height="1.6" fill="#5e8658" fill-opacity="0.10"/>
<rect x="67.1" y="404.5" width="1.6" height="1.6" fill="#5e8658" fill-opacity="0.10"/>
<rect x="74.6" y="407.7" width="1.6" height="1.6" fill="#5e8658" fill-opacity="0.10"/>
<rect x="76.0" y="429.3" width="1.6" height="1.6" fill="#5e8658" fill-opacity="0.10"/>
<rect x="61.6" y="410.3" width="1.6" height="1.6" fill="#5e8658" fill-opacity="0.10"/>
<rect x="72.6" y="422.0" width="1.6" height="1.6" fill="#5e8658" fill-opacity="0.10"/>
<rect x="60.5" y="403.6" width="1.6" height="1.6" fill="#5e8658" fill-opacity="0.10"/>
<rect x="68.9" y="404.1" width="1.6" height="1.6" fill="#5e8658" fill-opacity="0.10"/>
<rect x="64.2" y="357.4" width="1.6" height="1.6" fill="#5e8658" fill-opacity="0.10"/>
<rect x="74.2" y="419.3" width="1.6" height="1.6" fill="#5e8658" fill-opacity="0.10"/>
<rect x="76.9" y="412.8" width="1.6" height="1.6" fill="#5e8658" fill-opacity="0.10"/>
<rect x="88.1" y="442.2" width="1.6" height="1.6" fill="#5e8658" fill-opacity="0.10"/>
<rect x="75.6" y="417.1" width="1.6" height="1.6" fill="#5e8658" fill-opacity="0.10"/>
<rect x="87.6" y="445.0" width="1.6" height="1.6" fill="#5e8658" fill-opacity="0.10"/>
<rect x="98.2" y="428.7" width="1.6" height="1.6" fill="#5e8658" fill-opacity="0.10"/>
<rect x="71.3" y="422.7" width="1.6" height="1.6" fill="#5e8658" fill-opacity="0.10"/>
<rect x="64.4" y="399.8" width="1.6" height="1.6" fill="#5e8658" fill-opacity="0.10"/>
<rect x="94.5" y="423.3" width="1.6" height="1.6" fill="#5e8658" fill-opacity="0.10"/>
<rect x="85.9" y="445.2" width="1.6" height="1.6" fill="#5e8658" fill-opacity="0.10"/>
<rect x="61.0" y="406.1" width="1.6" height="1.6" fill="#5e8658" fill-opacity="0.10"/>
<rect x="62.2" y="396.9" width="1.6" height="1.6" fill="#5e8658" fill-opacity="0.10"/>
<rect x="99.6" y="442.1" width="1.6" height="1.6" fill="#5e8658" fill-opacity="0.10"/>
<rect x="66.8" y="394.6" width="1.6" height="1.6" fill="#5e8658" fill-opacity="0.10"/>
<rect x="66.3" y="411.3" width="1.6" height="1.6" fill="#5e8658" fill-opacity="0.10"/>
<rect x="80.2" y="438.5" width="1.6" height="1.6" fill="#5e8658" fill-opacity="0.10"/>
<rect x="58.4" y="384.0" width="1.6" height="1.6" fill="#5e8658" fill-opacity="0.10"/>
<rect x="65.1" y="410.9" width="1.6" height="1.6" fill="#5e8658" fill-opacity="0.10"/>
<rect x="79.5" y="424.9" width="1.6" height="1.6" fill="#5e8658" fill-opacity="0.10"/>
<rect x="54.1" y="394.0" width="1.6" height="1.6" fill="#5e8658" fill-opacity="0.10"/>
<rect x="71.5" y="418.1" width="1.6" height="1.6" fill="#5e8658" fill-opacity="0.10"/>
<rect x="62.7" y="401.7" width="1.6" height="1.6" fill="#5e8658" fill-opacity="0.10"/>
<rect x="91.4" y="451.1" width="1.6" height="1.6" fill="#5e8658" fill-opacity="0.10"/>
<rect x="73.6" y="427.9" width="1.6" height="1.6" fill="#5e8658" fill-opacity="0.10"/>
<rect x="65.9" y="404.1" width="1.6" height="1.6" fill="#5e8658" fill-opacity="0.10"/>
<rect x="59.7" y="381.3" width="1.6" height="1.6" fill="#5e8658" fill-opacity="0.10"/>
<rect x="86.8" y="448.6" width="1.6" height="1.6" fill="#5e8658" fill-opacity="0.10"/>
<rect x="90.6" y="450.2" width="1.6" height="1.6" fill="#5e8658" fill-opacity="0.10"/>
<rect x="89.7" y="437.3" width="1.6" height="1.6" fill="#5e8658" fill-opacity="0.10"/>
<rect x="66.9" y="405.3" width="1.6" height="1.6" fill="#5e8658" fill-opacity="0.10"/>
<rect x="85.3" y="427.8" width="1.6" height="1.6" fill="#5e8658" fill-opacity="0.10"/>
<rect x="66.1" y="400.7" width="1.6" height="1.6" fill="#5e8658" fill-opacity="0.10"/>
<rect x="96.2" y="451.1" width="1.6" height="1.6" fill="#5e8658" fill-opacity="0.10"/>
<rect x="73.3" y="427.5" width="1.6" height="1.6" fill="#5e8658" fill-opacity="0.10"/>
<rect x="73.0" y="423.2" width="1.6" height="1.6" fill="#5e8658" fill-opacity="0.10"/>
<rect x="85.6" y="434.4" width="1.6" height="1.6" fill="#5e8658" fill-opacity="0.10"/>
<rect x="74.8" y="428.8" width="1.6" height="1.6" fill="#5e8658" fill-opacity="0.10"/>
<rect x="81.7" y="429.9" width="1.6" height="1.6" fill="#5e8658" fill-opacity="0.10"/>
<rect x="63.2" y="386.5" width="1.6" height="1.6" fill="#5e8658" fill-opacity="0.10"/>
<rect x="77.7" y="434.2" width="1.6" height="1.6" fill="#5e8658" fill-opacity="0.10"/>
<rect x="88.0" y="449.9" width="1.6" height="1.6" fill="#5e8658" fill-opacity="0.10"/>
<rect x="68.8" y="406.6" width="1.6" height="1.6" fill="#5e8658" fill-opacity="0.10"/>
<rect x="78.7" y="427.6" width="1.6" height="1.6" fill="#5e8658" fill-opacity="0.10"/>
<rect x="79.8" y="431.7" width="1.6" height="1.6" fill="#5e8658" fill-opacity="0.10"/>
<rect x="65.4" y="414.2" width="1.6" height="1.6" fill="#5e8658" fill-opacity="0.10"/>
<rect x="56.9" y="388.2" width="1.6" height="1.6" fill="#5e8658" fill-opacity="0.10"/>
<rect x="85.2" y="437.9" width="1.6" height="1.6" fill="#5e8658" fill-opacity="0.10"/>
<rect x="82.6" y="438.0" width="1.6" height="1.6" fill="#5e8658" fill-opacity="0.10"/>
<rect x="64.2" y="408.9" width="1.6" height="1.6" fill="#5e8658" fill-opacity="0.10"/>
<rect x="85.0" y="446.7" width="1.6" height="1.6" fill="#5e8658" fill-opacity="0.10"/>
<rect x="72.8" y="424.7" width="1.6" height="1.6" fill="#5e8658" fill-opacity="0.10"/>
<rect x="83.7" y="439.8" width="1.6" height="1.6" fill="#5e8658" fill-opacity="0.10"/>
<rect x="66.9" y="412.8" width="1.6" height="1.6" fill="#5e8658" fill-opacity="0.10"/>
<rect x="79.2" y="420.3" width="1.6" height="1.6" fill="#5e8658" fill-opacity="0.10"/>
<rect x="71.5" y="403.4" width="1.6" height="1.6" fill="#5e8658" fill-opacity="0.10"/>
<rect x="58.1" y="401.3" width="1.6" height="1.6" fill="#5e8658" fill-opacity="0.10"/>
<rect x="57.4" y="402.7" width="1.6" height="1.6" fill="#5e8658" fill-opacity="0.10"/>
<rect x="89.3" y="438.1" width="1.6" height="1.6" fill="#5e8658" fill-opacity="0.10"/>
<rect x="60.7" y="406.7" width="1.6" height="1.6" fill="#5e8658" fill-opacity="0.10"/>
<rect x="73.0" y="412.0" width="1.6" height="1.6" fill="#5e8658" fill-opacity="0.10"/>
<rect x="91.5" y="440.5" width="1.6" height="1.6" fill="#5e8658" fill-opacity="0.10"/>
<rect x="75.5" y="430.5" width="1.6" height="1.6" fill="#5e8658" fill-opacity="0.10"/>
<rect x="68.6" y="419.0" width="1.6" height="1.6" fill="#5e8658" fill-opacity="0.10"/>
<rect x="76.0" y="422.9" width="1.6" height="1.6" fill="#5e8658" fill-opacity="0.10"/>
<rect x="61.4" y="406.9" width="1.6" height="1.6" fill="#5e8658" fill-opacity="0.10"/>
<rect x="81.7" y="441.7" width="1.6" height="1.6" fill="#5e8658" fill-opacity="0.10"/>
<rect x="96.1" y="437.6" width="1.6" height="1.6" fill="#5e8658" fill-opacity="0.10"/>
<rect x="91.0" y="450.7" width="1.6" height="1.6" fill="#5e8658" fill-opacity="0.10"/>
<rect x="56.2" y="346.5" width="1.6" height="1.6" fill="#5e8658" fill-opacity="0.08"/>
<rect x="57.8" y="340.9" width="1.6" height="1.6" fill="#5e8658" fill-opacity="0.08"/>
<rect x="55.0" y="337.3" width="1.6" height="1.6" fill="#5e8658" fill-opacity="0.08"/>
<rect x="55.8" y="325.3" width="1.6" height="1.6" fill="#5e8658" fill-opacity="0.08"/>
<rect x="56.8" y="343.2" width="1.6" height="1.6" fill="#5e8658" fill-opacity="0.08"/>
<rect x="56.9" y="384.5" width="1.6" height="1.6" fill="#5e8658" fill-opacity="0.08"/>
<rect x="55.8" y="339.0" width="1.6" height="1.6" fill="#5e8658" fill-opacity="0.08"/>
<rect x="55.7" y="348.5" width="1.6" height="1.6" fill="#5e8658" fill-opacity="0.08"/>
<rect x="56.0" y="371.3" width="1.6" height="1.6" fill="#5e8658" fill-opacity="0.08"/>
<rect x="55.8" y="382.1" width="1.6" height="1.6" fill="#5e8658" fill-opacity="0.08"/>
<rect x="55.6" y="340.1" width="1.6" height="1.6" fill="#5e8658" fill-opacity="0.08"/>
<rect x="57.7" y="345.6" width="1.6" height="1.6" fill="#5e8658" fill-opacity="0.08"/>
<rect x="54.4" y="323.1" width="1.6" height="1.6" fill="#5e8658" fill-opacity="0.08"/>
<rect x="56.3" y="330.0" width="1.6" height="1.6" fill="#5e8658" fill-opacity="0.08"/>
<rect x="55.3" y="381.2" width="1.6" height="1.6" fill="#5e8658" fill-opacity="0.08"/>
<rect x="54.1" y="368.6" width="1.6" height="1.6" fill="#5e8658" fill-opacity="0.08"/>
<rect x="57.6" y="347.5" width="1.6" height="1.6" fill="#5e8658" fill-opacity="0.08"/>
<rect x="57.4" y="362.4" width="1.6" height="1.6" fill="#5e8658" fill-opacity="0.08"/>
<rect x="54.3" y="336.7" width="1.6" height="1.6" fill="#5e8658" fill-opacity="0.08"/>
<rect x="56.3" y="325.4" width="1.6" height="1.6" fill="#5e8658" fill-opacity="0.08"/>
<rect x="56.7" y="320.7" width="1.6" height="1.6" fill="#5e8658" fill-opacity="0.08"/>
<rect x="55.2" y="333.6" width="1.6" height="1.6" fill="#5e8658" fill-opacity="0.08"/>
<rect x="57.6" y="329.0" width="1.6" height="1.6" fill="#5e8658" fill-opacity="0.08"/>
<rect x="55.6" y="325.2" width="1.6" height="1.6" fill="#5e8658" fill-opacity="0.08"/>
<rect x="55.8" y="332.4" width="1.6" height="1.6" fill="#5e8658" fill-opacity="0.08"/>
<rect x="54.0" y="377.2" width="1.6" height="1.6" fill="#5e8658" fill-opacity="0.08"/>
<rect x="54.6" y="379.3" width="1.6" height="1.6" fill="#5e8658" fill-opacity="0.08"/>
<rect x="55.8" y="373.6" width="1.6" height="1.6" fill="#5e8658" fill-opacity="0.08"/>
<rect x="56.0" y="336.4" width="1.6" height="1.6" fill="#5e8658" fill-opacity="0.08"/>
<rect x="56.5" y="355.5" width="1.6" height="1.6" fill="#5e8658" fill-opacity="0.08"/>
<rect x="55.7" y="363.7" width="1.6" height="1.6" fill="#5e8658" fill-opacity="0.08"/>
<rect x="55.4" y="332.4" width="1.6" height="1.6" fill="#5e8658" fill-opacity="0.08"/>
<rect x="57.5" y="372.2" width="1.6" height="1.6" fill="#5e8658" fill-opacity="0.08"/>
<rect x="55.3" y="335.0" width="1.6" height="1.6" fill="#5e8658" fill-opacity="0.08"/>
<rect x="56.0" y="359.1" width="1.6" height="1.6" fill="#5e8658" fill-opacity="0.08"/>
<rect x="54.7" y="343.5" width="1.6" height="1.6" fill="#5e8658" fill-opacity="0.08"/>
<rect x="54.7" y="384.5" width="1.6" height="1.6" fill="#5e8658" fill-opacity="0.08"/>
<rect x="54.4" y="330.6" width="1.6" height="1.6" fill="#5e8658" fill-opacity="0.08"/>
<rect x="54.6" y="352.9" width="1.6" height="1.6" fill="#5e8658" fill-opacity="0.08"/>
<rect x="54.5" y="370.3" width="1.6" height="1.6" fill="#5e8658" fill-opacity="0.08"/>
<rect x="53.6" y="453.4" width="46.5" height="2.4" fill="#5e8658" fill-opacity="0.3"/>
<rect x="48.55" y="308.95" width="169.95" height="151.4" fill="none" stroke="#000" stroke-width="1.45"/>
<line x1="44.9" y1="454.60" x2="48.6" y2="454.60" stroke="#111" stroke-width="1"/>
<text x="42.30" y="457.90" font-size="9.2" fill="#222" stroke="#222" stroke-width="0.1" text-anchor="end" textLength="5.00" lengthAdjust="spacingAndGlyphs" >0</text>
<line x1="44.9" y1="421.70" x2="48.6" y2="421.70" stroke="#111" stroke-width="1"/>
<text x="42.30" y="425.00" font-size="9.2" fill="#222" stroke="#222" stroke-width="0.1" text-anchor="end" textLength="5.00" lengthAdjust="spacingAndGlyphs" >2</text>
<line x1="44.9" y1="388.80" x2="48.6" y2="388.80" stroke="#111" stroke-width="1"/>
<text x="42.30" y="392.10" font-size="9.2" fill="#222" stroke="#222" stroke-width="0.1" text-anchor="end" textLength="5.00" lengthAdjust="spacingAndGlyphs" >4</text>
<line x1="44.9" y1="355.90" x2="48.6" y2="355.90" stroke="#111" stroke-width="1"/>
<text x="42.30" y="359.20" font-size="9.2" fill="#222" stroke="#222" stroke-width="0.1" text-anchor="end" textLength="5.00" lengthAdjust="spacingAndGlyphs" >6</text>
<line x1="44.9" y1="323.00" x2="48.6" y2="323.00" stroke="#111" stroke-width="1"/>
<text x="42.30" y="326.30" font-size="9.2" fill="#222" stroke="#222" stroke-width="0.1" text-anchor="end" textLength="5.00" lengthAdjust="spacingAndGlyphs" >8</text>
<line x1="54.60" y1="460.2" x2="54.60" y2="464.2" stroke="#111" stroke-width="1"/>
<text x="54.60" y="474.40" font-size="9.2" fill="#222" stroke="#222" stroke-width="0.1" text-anchor="middle" textLength="5.00" lengthAdjust="spacingAndGlyphs" >0</text>
<line x1="77.94" y1="460.2" x2="77.94" y2="464.2" stroke="#111" stroke-width="1"/>
<text x="77.94" y="474.40" font-size="9.2" fill="#222" stroke="#222" stroke-width="0.1" text-anchor="middle" textLength="5.00" lengthAdjust="spacingAndGlyphs" >2</text>
<line x1="101.28" y1="460.2" x2="101.28" y2="464.2" stroke="#111" stroke-width="1"/>
<text x="101.28" y="474.40" font-size="9.2" fill="#222" stroke="#222" stroke-width="0.1" text-anchor="middle" textLength="5.00" lengthAdjust="spacingAndGlyphs" >4</text>
<line x1="124.62" y1="460.2" x2="124.62" y2="464.2" stroke="#111" stroke-width="1"/>
<text x="124.62" y="474.40" font-size="9.2" fill="#222" stroke="#222" stroke-width="0.1" text-anchor="middle" textLength="5.00" lengthAdjust="spacingAndGlyphs" >6</text>
<line x1="147.96" y1="460.2" x2="147.96" y2="464.2" stroke="#111" stroke-width="1"/>
<text x="147.96" y="474.40" font-size="9.2" fill="#222" stroke="#222" stroke-width="0.1" text-anchor="middle" textLength="5.00" lengthAdjust="spacingAndGlyphs" >8</text>
<line x1="171.30" y1="460.2" x2="171.30" y2="464.2" stroke="#111" stroke-width="1"/>
<text x="171.30" y="474.40" font-size="9.2" fill="#222" stroke="#222" stroke-width="0.1" text-anchor="middle" textLength="9.20" lengthAdjust="spacingAndGlyphs" >10</text>
<line x1="194.64" y1="460.2" x2="194.64" y2="464.2" stroke="#111" stroke-width="1"/>
<text x="194.64" y="474.40" font-size="9.2" fill="#222" stroke="#222" stroke-width="0.1" text-anchor="middle" textLength="9.20" lengthAdjust="spacingAndGlyphs" >12</text>
<line x1="217.98" y1="460.2" x2="217.98" y2="464.2" stroke="#111" stroke-width="1"/>
<text x="217.98" y="474.40" font-size="9.2" fill="#222" stroke="#222" stroke-width="0.1" text-anchor="middle" textLength="9.20" lengthAdjust="spacingAndGlyphs" >14</text>
<text x="133.60" y="489.00" font-size="11.0" fill="#222" text-anchor="middle" textLength="53.30" lengthAdjust="spacingAndGlyphs" >Negative score</text>
<text x="31.00" y="384.60" font-size="11.3" fill="#222" text-anchor="middle" textLength="48.70" lengthAdjust="spacingAndGlyphs" transform="rotate(-90 31.00 384.60)" >Positive score</text>
<polygon points="54.9,333.2 56.699999999999996,336.44 53.1,336.44" fill="#c0002a"/>
<polygon points="63,344.0 64.8,347.24 61.2,347.24" fill="#c0002a"/>
<polygon points="212.8,452.5 214.60000000000002,455.74 211.0,455.74" fill="#1a3a8a"/>
<text x="60.80" y="337.70" font-size="8.6" fill="#222" stroke="#222" stroke-width="0.1" font-style="italic" textLength="22.20" lengthAdjust="spacingAndGlyphs" >STAT3</text>
<text x="67.70" y="349.50" font-size="8.6" fill="#222" stroke="#222" stroke-width="0.1" font-style="italic" textLength="18.50" lengthAdjust="spacingAndGlyphs" >JAK1</text>
<text x="187.00" y="452.00" font-size="8.6" fill="#222" stroke="#222" stroke-width="0.1" font-style="italic" textLength="21.40" lengthAdjust="spacingAndGlyphs" >CD38</text>
<line x1="280" y1="326.5" x2="280" y2="460.95" stroke="#000" stroke-width="1.5"/>
<line x1="280" y1="460.2" x2="420" y2="460.2" stroke="#000" stroke-width="1.5"/>
<line x1="276.8" y1="328.70" x2="280" y2="328.70" stroke="#111" stroke-width="1"/>
<text x="273.00" y="332.00" font-size="9.4" fill="#222" stroke="#222" stroke-width="0.1" text-anchor="end" textLength="18.80" lengthAdjust="spacingAndGlyphs" >6000</text>
<line x1="276.8" y1="350.62" x2="280" y2="350.62" stroke="#111" stroke-width="1"/>
<text x="273.00" y="353.92" font-size="9.4" fill="#222" stroke="#222" stroke-width="0.1" text-anchor="end" textLength="18.80" lengthAdjust="spacingAndGlyphs" >5000</text>
<line x1="276.8" y1="372.54" x2="280" y2="372.54" stroke="#111" stroke-width="1"/>
<text x="273.00" y="375.84" font-size="9.4" fill="#222" stroke="#222" stroke-width="0.1" text-anchor="end" textLength="18.80" lengthAdjust="spacingAndGlyphs" >4000</text>
<line x1="276.8" y1="394.46" x2="280" y2="394.46" stroke="#111" stroke-width="1"/>
<text x="273.00" y="397.76" font-size="9.4" fill="#222" stroke="#222" stroke-width="0.1" text-anchor="end" textLength="18.80" lengthAdjust="spacingAndGlyphs" >3000</text>
<line x1="276.8" y1="416.38" x2="280" y2="416.38" stroke="#111" stroke-width="1"/>
<text x="273.00" y="419.68" font-size="9.4" fill="#222" stroke="#222" stroke-width="0.1" text-anchor="end" textLength="18.80" lengthAdjust="spacingAndGlyphs" >2000</text>
<line x1="276.8" y1="438.30" x2="280" y2="438.30" stroke="#111" stroke-width="1"/>
<text x="273.00" y="441.60" font-size="9.4" fill="#222" stroke="#222" stroke-width="0.1" text-anchor="end" textLength="18.80" lengthAdjust="spacingAndGlyphs" >1000</text>
<line x1="276.8" y1="460.22" x2="280" y2="460.22" stroke="#111" stroke-width="1"/>
<text x="273.00" y="463.52" font-size="9.4" fill="#222" stroke="#222" stroke-width="0.1" text-anchor="end" textLength="4.70" lengthAdjust="spacingAndGlyphs" >0</text>
<line x1="314.5" y1="460.2" x2="314.5" y2="463.2" stroke="#111" stroke-width="1"/>
<line x1="383" y1="460.2" x2="383" y2="463.2" stroke="#111" stroke-width="1"/>
<line x1="417.7" y1="460.2" x2="417.7" y2="463.2" stroke="#111" stroke-width="1"/>
<text x="314.50" y="474.50" font-size="9.4" fill="#222" stroke="#222" stroke-width="0.1" text-anchor="middle" textLength="29.00" lengthAdjust="spacingAndGlyphs" >Control</text>
<text x="383.00" y="474.50" font-size="9.4" fill="#222" stroke="#222" stroke-width="0.1" text-anchor="middle" textLength="26.50" lengthAdjust="spacingAndGlyphs" >Sorted</text>
<text x="248.60" y="393.25" font-size="11.4" fill="#222" text-anchor="middle" textLength="45.00" lengthAdjust="spacingAndGlyphs" transform="rotate(-90 248.60 393.25)" >Read counts</text>
<text x="297.5" y="320.2" font-size="10.2" fill="#222" textLength="107" lengthAdjust="spacingAndGlyphs">sgRNAs against <tspan font-style="italic">STAT3</tspan></text>
<line x1="314.5" y1="431.2" x2="383" y2="404.1" stroke="#c6c6cc" stroke-width="1.1"/>
<line x1="314.5" y1="419.9" x2="383" y2="346.9" stroke="#58a3e0" stroke-width="1.1"/>
<line x1="314.5" y1="422" x2="383" y2="400.2" stroke="#f0c01c" stroke-width="1.1"/>
<line x1="314.5" y1="435.6" x2="383" y2="436.6" stroke="#1f3c7e" stroke-width="1.1"/>
<line x1="314.5" y1="445.8" x2="383" y2="425.7" stroke="#e57d2b" stroke-width="1.1"/>
<line x1="314.5" y1="448.3" x2="383" y2="448.4" stroke="#62ad44" stroke-width="1.1"/>
<circle cx="314.5" cy="431.2" r="1.9" fill="#c6c6cc"/><circle cx="383" cy="404.1" r="1.9" fill="#c6c6cc"/>
<circle cx="314.5" cy="419.9" r="1.9" fill="#58a3e0"/><circle cx="383" cy="346.9" r="1.9" fill="#58a3e0"/>
<circle cx="314.5" cy="422" r="1.9" fill="#f0c01c"/><circle cx="383" cy="400.2" r="1.9" fill="#f0c01c"/>
<circle cx="314.5" cy="435.6" r="1.9" fill="#1f3c7e"/><circle cx="383" cy="436.6" r="1.9" fill="#1f3c7e"/>
<circle cx="314.5" cy="445.8" r="1.9" fill="#e57d2b"/><circle cx="383" cy="425.7" r="1.9" fill="#e57d2b"/>
<circle cx="314.5" cy="448.3" r="1.9" fill="#62ad44"/><circle cx="383" cy="448.4" r="1.9" fill="#62ad44"/>
<line x1="48.6" y1="533.9" x2="48.6" y2="669.05" stroke="#000" stroke-width="1.5"/>
<line x1="48.6" y1="668.3" x2="189.9" y2="668.3" stroke="#000" stroke-width="1.5"/>
<line x1="45.4" y1="536.70" x2="48.6" y2="536.70" stroke="#111" stroke-width="1"/>
<text x="41.60" y="540.00" font-size="9.4" fill="#222" stroke="#222" stroke-width="0.1" text-anchor="end" textLength="18.80" lengthAdjust="spacingAndGlyphs" >4000</text>
<line x1="45.4" y1="553.15" x2="48.6" y2="553.15" stroke="#111" stroke-width="1"/>
<text x="41.60" y="556.45" font-size="9.4" fill="#222" stroke="#222" stroke-width="0.1" text-anchor="end" textLength="18.80" lengthAdjust="spacingAndGlyphs" >3500</text>
<line x1="45.4" y1="569.60" x2="48.6" y2="569.60" stroke="#111" stroke-width="1"/>
<text x="41.60" y="572.90" font-size="9.4" fill="#222" stroke="#222" stroke-width="0.1" text-anchor="end" textLength="18.80" lengthAdjust="spacingAndGlyphs" >3000</text>
<line x1="45.4" y1="586.05" x2="48.6" y2="586.05" stroke="#111" stroke-width="1"/>
<text x="41.60" y="589.35" font-size="9.4" fill="#222" stroke="#222" stroke-width="0.1" text-anchor="end" textLength="18.80" lengthAdjust="spacingAndGlyphs" >2500</text>
<line x1="45.4" y1="602.50" x2="48.6" y2="602.50" stroke="#111" stroke-width="1"/>
<text x="41.60" y="605.80" font-size="9.4" fill="#222" stroke="#222" stroke-width="0.1" text-anchor="end" textLength="18.80" lengthAdjust="spacingAndGlyphs" >2000</text>
<line x1="45.4" y1="618.95" x2="48.6" y2="618.95" stroke="#111" stroke-width="1"/>
<text x="41.60" y="622.25" font-size="9.4" fill="#222" stroke="#222" stroke-width="0.1" text-anchor="end" textLength="18.80" lengthAdjust="spacingAndGlyphs" >1500</text>
<line x1="45.4" y1="635.40" x2="48.6" y2="635.40" stroke="#111" stroke-width="1"/>
<text x="41.60" y="638.70" font-size="9.4" fill="#222" stroke="#222" stroke-width="0.1" text-anchor="end" textLength="18.80" lengthAdjust="spacingAndGlyphs" >1000</text>
<line x1="45.4" y1="651.85" x2="48.6" y2="651.85" stroke="#111" stroke-width="1"/>
<text x="41.60" y="655.15" font-size="9.4" fill="#222" stroke="#222" stroke-width="0.1" text-anchor="end" textLength="14.10" lengthAdjust="spacingAndGlyphs" >500</text>
<line x1="45.4" y1="668.30" x2="48.6" y2="668.30" stroke="#111" stroke-width="1"/>
<text x="41.60" y="671.60" font-size="9.4" fill="#222" stroke="#222" stroke-width="0.1" text-anchor="end" textLength="4.70" lengthAdjust="spacingAndGlyphs" >0</text>
<line x1="83" y1="668.3" x2="83" y2="671.3" stroke="#111" stroke-width="1"/>
<line x1="152" y1="668.3" x2="152" y2="671.3" stroke="#111" stroke-width="1"/>
<line x1="186.4" y1="668.3" x2="186.4" y2="671.3" stroke="#111" stroke-width="1"/>
<text x="83.00" y="682.60" font-size="9.4" fill="#222" stroke="#222" stroke-width="0.1" text-anchor="middle" textLength="29.00" lengthAdjust="spacingAndGlyphs" >Control</text>
<text x="152.00" y="682.60" font-size="9.4" fill="#222" stroke="#222" stroke-width="0.1" text-anchor="middle" textLength="26.50" lengthAdjust="spacingAndGlyphs" >Sorted</text>
<text x="17.30" y="601.00" font-size="11.4" fill="#222" text-anchor="middle" textLength="45.00" lengthAdjust="spacingAndGlyphs" transform="rotate(-90 17.30 601.00)" >Read counts</text>
<text x="68.2" y="528.0" font-size="10.2" fill="#222" textLength="101.8" lengthAdjust="spacingAndGlyphs">sgRNAs against <tspan font-style="italic">JAK1</tspan></text>
<line x1="83" y1="605.4" x2="152" y2="563.1" stroke="#c6c6cc" stroke-width="1.1"/>
<line x1="83" y1="608.7" x2="152" y2="626.2" stroke="#62ad44" stroke-width="1.1"/>
<line x1="83" y1="646.5" x2="152" y2="607.9" stroke="#58a3e0" stroke-width="1.1"/>
<line x1="83" y1="655" x2="152" y2="631.5" stroke="#e57d2b" stroke-width="1.1"/>
<line x1="83" y1="649.2" x2="152" y2="630.8" stroke="#f0c01c" stroke-width="1.1"/>
<line x1="83" y1="646.7" x2="152" y2="632.9" stroke="#1f3c7e" stroke-width="1.1"/>
<circle cx="83" cy="605.4" r="1.9" fill="#c6c6cc"/><circle cx="152" cy="563.1" r="1.9" fill="#c6c6cc"/>
<circle cx="83" cy="608.7" r="1.9" fill="#62ad44"/><circle cx="152" cy="626.2" r="1.9" fill="#62ad44"/>
<circle cx="83" cy="646.5" r="1.9" fill="#58a3e0"/><circle cx="152" cy="607.9" r="1.9" fill="#58a3e0"/>
<circle cx="83" cy="655" r="1.9" fill="#e57d2b"/><circle cx="152" cy="631.5" r="1.9" fill="#e57d2b"/>
<circle cx="83" cy="649.2" r="1.9" fill="#f0c01c"/><circle cx="152" cy="630.8" r="1.9" fill="#f0c01c"/>
<circle cx="83" cy="646.7" r="1.9" fill="#1f3c7e"/><circle cx="152" cy="632.9" r="1.9" fill="#1f3c7e"/>
<line x1="280" y1="533.9" x2="280" y2="669.05" stroke="#000" stroke-width="1.5"/>
<line x1="280" y1="668.3" x2="420" y2="668.3" stroke="#000" stroke-width="1.5"/>
<line x1="276.8" y1="536.70" x2="280" y2="536.70" stroke="#111" stroke-width="1"/>
<text x="273.00" y="540.00" font-size="9.4" fill="#222" stroke="#222" stroke-width="0.1" text-anchor="end" textLength="18.80" lengthAdjust="spacingAndGlyphs" >2500</text>
<line x1="276.8" y1="563.02" x2="280" y2="563.02" stroke="#111" stroke-width="1"/>
<text x="273.00" y="566.32" font-size="9.4" fill="#222" stroke="#222" stroke-width="0.1" text-anchor="end" textLength="18.80" lengthAdjust="spacingAndGlyphs" >2000</text>
<line x1="276.8" y1="589.34" x2="280" y2="589.34" stroke="#111" stroke-width="1"/>
<text x="273.00" y="592.64" font-size="9.4" fill="#222" stroke="#222" stroke-width="0.1" text-anchor="end" textLength="18.80" lengthAdjust="spacingAndGlyphs" >1500</text>
<line x1="276.8" y1="615.66" x2="280" y2="615.66" stroke="#111" stroke-width="1"/>
<text x="273.00" y="618.96" font-size="9.4" fill="#222" stroke="#222" stroke-width="0.1" text-anchor="end" textLength="18.80" lengthAdjust="spacingAndGlyphs" >1000</text>
<line x1="276.8" y1="641.98" x2="280" y2="641.98" stroke="#111" stroke-width="1"/>
<text x="273.00" y="645.28" font-size="9.4" fill="#222" stroke="#222" stroke-width="0.1" text-anchor="end" textLength="14.10" lengthAdjust="spacingAndGlyphs" >500</text>
<line x1="276.8" y1="668.30" x2="280" y2="668.30" stroke="#111" stroke-width="1"/>
<text x="273.00" y="671.60" font-size="9.4" fill="#222" stroke="#222" stroke-width="0.1" text-anchor="end" textLength="4.70" lengthAdjust="spacingAndGlyphs" >0</text>
<line x1="314.3" y1="668.3" x2="314.3" y2="671.3" stroke="#111" stroke-width="1"/>
<line x1="383" y1="668.3" x2="383" y2="671.3" stroke="#111" stroke-width="1"/>
<line x1="417.5" y1="668.3" x2="417.5" y2="671.3" stroke="#111" stroke-width="1"/>
<text x="314.30" y="682.60" font-size="9.4" fill="#222" stroke="#222" stroke-width="0.1" text-anchor="middle" textLength="29.00" lengthAdjust="spacingAndGlyphs" >Control</text>
<text x="383.00" y="682.60" font-size="9.4" fill="#222" stroke="#222" stroke-width="0.1" text-anchor="middle" textLength="26.50" lengthAdjust="spacingAndGlyphs" >Sorted</text>
<text x="248.60" y="601.00" font-size="11.4" fill="#222" text-anchor="middle" textLength="45.00" lengthAdjust="spacingAndGlyphs" transform="rotate(-90 248.60 601.00)" >Read counts</text>
<text x="298.8" y="528.4" font-size="10.2" fill="#222" textLength="104.5" lengthAdjust="spacingAndGlyphs">sgRNAs against <tspan font-style="italic">CD38</tspan></text>
<line x1="314.3" y1="613.9" x2="383" y2="661.8" stroke="#c6c6cc" stroke-width="1.1"/>
<line x1="314.3" y1="563.8" x2="383" y2="646.7" stroke="#58a3e0" stroke-width="1.1"/>
<line x1="314.3" y1="570.2" x2="383" y2="611.2" stroke="#1f3c7e" stroke-width="1.1"/>
<line x1="314.3" y1="589.6" x2="383" y2="648.9" stroke="#e57d2b" stroke-width="1.1"/>
<line x1="314.3" y1="618.7" x2="383" y2="630.5" stroke="#62ad44" stroke-width="1.1"/>
<line x1="314.3" y1="621.9" x2="383" y2="656.4" stroke="#f0c01c" stroke-width="1.1"/>
<rect x="312.45" y="612.05" width="3.7" height="3.7" fill="#c6c6cc"/><rect x="381.15" y="659.9499999999999" width="3.7" height="3.7" fill="#c6c6cc"/>
<circle cx="314.3" cy="563.8" r="1.9" fill="#58a3e0"/><circle cx="383" cy="646.7" r="1.9" fill="#58a3e0"/>
<circle cx="314.3" cy="570.2" r="1.9" fill="#1f3c7e"/><circle cx="383" cy="611.2" r="1.9" fill="#1f3c7e"/>
<circle cx="314.3" cy="589.6" r="1.9" fill="#e57d2b"/><circle cx="383" cy="648.9" r="1.9" fill="#e57d2b"/>
<circle cx="314.3" cy="618.7" r="1.9" fill="#62ad44"/><circle cx="383" cy="630.5" r="1.9" fill="#62ad44"/>
<circle cx="314.3" cy="621.9" r="1.9" fill="#f0c01c"/><circle cx="383" cy="656.4" r="1.9" fill="#f0c01c"/>
<rect x="0" y="0" width="520" height="1.15" fill="#000"/>
<rect x="0" y="0" width="1.35" height="691" fill="#000"/>
<rect x="518.5" y="0" width="1.5" height="691" fill="#000"/>
<rect x="0" y="689.3" width="520" height="1.7" fill="#000"/>
</svg>
</body></html>
